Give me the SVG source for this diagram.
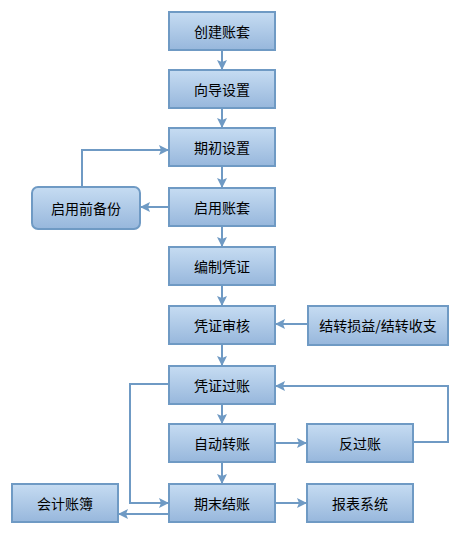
<svg xmlns="http://www.w3.org/2000/svg" width="462" height="535" viewBox="0 0 462 535">
<style>
.b{fill:url(#g);stroke:#6f9ac4;stroke-width:2}
.t{font-family:"Noto Sans CJK SC","Liberation Sans",sans-serif;font-size:14px;fill:#000;text-anchor:middle;dominant-baseline:central}
.c{fill:none;stroke:#6f9ac4;stroke-width:2;marker-end:url(#a)}
</style>
<defs>
<linearGradient id="g" x1="0" y1="0" x2="0" y2="1">
<stop offset="0" stop-color="#c6dcf2"/>
<stop offset="1" stop-color="#97b7dc"/>
</linearGradient>
<marker id="a" viewBox="0 0 10 10" refX="9" refY="5" markerWidth="5" markerHeight="5" orient="auto" markerUnits="strokeWidth">
<path d="M0,0 L10,5 L0,10 L2,5 z" fill="#6f9ac4"/>
</marker>
</defs>
<g id="n1"><rect class="b" x="169" y="12" width="106" height="38"/><text class="t" x="222" y="31">创建账套</text></g>
<g id="n2"><rect class="b" x="169" y="70" width="106" height="38"/><text class="t" x="222" y="89">向导设置</text></g>
<g id="n3"><rect class="b" x="169" y="128" width="106" height="38"/><text class="t" x="222" y="147">期初设置</text></g>
<g id="n4"><rect class="b" x="169" y="188" width="106" height="38"/><text class="t" x="222" y="207">启用账套</text></g>
<g id="n5"><rect class="b" x="32" y="187" width="108" height="42" rx="6"/><text class="t" x="86" y="208">启用前备份</text></g>
<g id="n6"><rect class="b" x="169" y="247" width="106" height="38"/><text class="t" x="222" y="266">编制凭证</text></g>
<g id="n7"><rect class="b" x="169" y="306" width="106" height="38"/><text class="t" x="222" y="325">凭证审核</text></g>
<g id="n8"><rect class="b" x="308" y="306" width="140" height="39"/><text class="t" x="378" y="325">结转损益/结转收支</text></g>
<g id="n9"><rect class="b" x="169" y="366" width="106" height="38"/><text class="t" x="222" y="385">凭证过账</text></g>
<g id="n10"><rect class="b" x="169" y="424" width="106" height="38"/><text class="t" x="222" y="443">自动转账</text></g>
<g id="n11"><rect class="b" x="307" y="424" width="106" height="38"/><text class="t" x="360" y="443">反过账</text></g>
<g id="n12"><rect class="b" x="169" y="484" width="106" height="38"/><text class="t" x="222" y="503">期末结账</text></g>
<g id="n13"><rect class="b" x="307" y="484" width="106" height="38"/><text class="t" x="360" y="503">报表系统</text></g>
<g id="n14"><rect class="b" x="12" y="484" width="106" height="38"/><text class="t" x="65" y="503">会计账簿</text></g>
<g id="connectors">
<path class="c" d="M222,50 V69"/>
<path class="c" d="M222,108 V127"/>
<path class="c" d="M222,166 V187"/>
<path class="c" d="M222,226 V246"/>
<path class="c" d="M222,285 V305"/>
<path class="c" d="M222,344 V365"/>
<path class="c" d="M222,404 V423"/>
<path class="c" d="M222,462 V483"/>
<path class="c" d="M169,207 H141"/>
<path class="c" d="M82,187 V150 H168"/>
<path class="c" d="M308,324 H276"/>
<path class="c" d="M169,384 H130 V503 H168"/>
<path class="c" d="M169,514 H119"/>
<path class="c" d="M275,443 H306"/>
<path class="c" d="M413,442 H448 V386 H276"/>
<path class="c" d="M275,503 H306"/>
</g>
</svg>
